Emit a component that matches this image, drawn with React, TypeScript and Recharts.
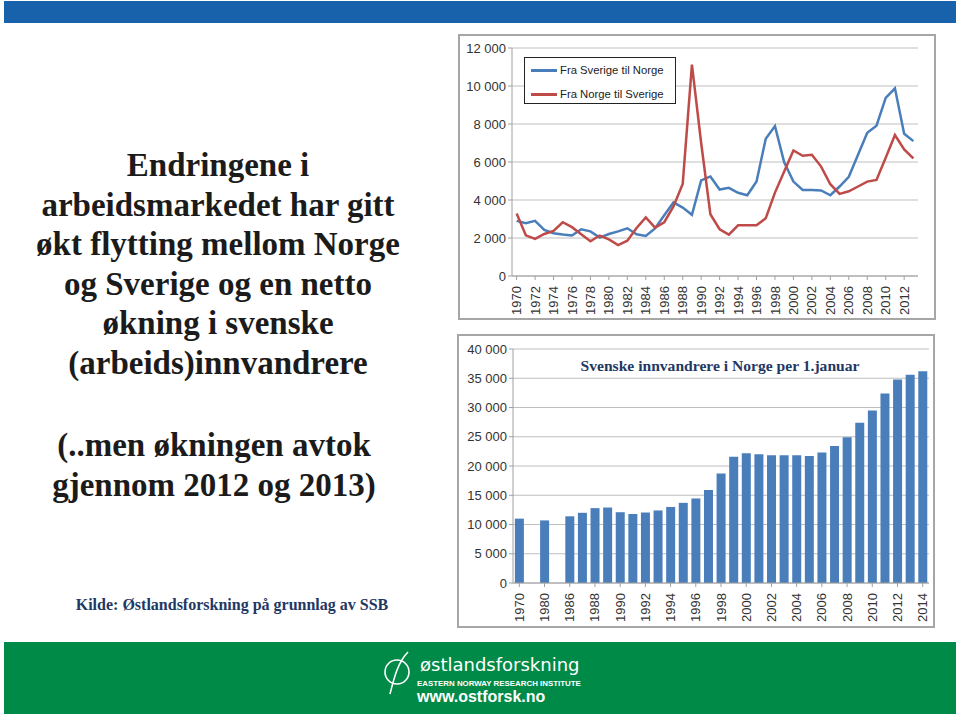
import { LineChart, Line, BarChart, Bar, XAxis, YAxis, CartesianGrid } from 'recharts';

// Flyttinger mellom Norge og Sverige
const years = [
  '1970', '1971', '1972', '1973', '1974', '1975', '1976', '1977', '1978', '1979',
  '1980', '1981', '1982', '1983', '1984', '1985', '1986', '1987', '1988', '1989',
  '1990', '1991', '1992', '1993', '1994', '1995', '1996', '1997', '1998', '1999',
  '2000', '2001', '2002', '2003', '2004', '2005', '2006', '2007', '2008', '2009',
  '2010', '2011', '2012', '2013',
];
const fraSverige = [
  2900, 2780, 2900, 2430, 2250, 2180, 2130, 2460, 2350, 2020,
  2210, 2350, 2510, 2200, 2110, 2500, 3200, 3870, 3600, 3220,
  5030, 5240, 4550, 4640, 4380, 4250, 4970, 7220, 7890, 5980,
  4970, 4530, 4530, 4500, 4250, 4710, 5220, 6380, 7540, 7910,
  9370, 9880, 7490, 7100,
];
const fraNorge = [
  3290, 2140, 1950, 2210, 2370, 2830, 2570, 2200, 1830, 2130,
  1930, 1630, 1860, 2530, 3080, 2550, 2830, 3660, 4850, 11120,
  7000, 3250, 2460, 2180, 2670, 2670, 2670, 3040, 4390, 5500,
  6610, 6330, 6380, 5760, 4830, 4320, 4460, 4710, 4970, 5060,
  6220, 7420, 6660, 6190,
];
const flowTicks = [0, 2000, 4000, 6000, 8000, 10000, 12000];
const seriesNames = ['Fra Sverige til Norge', 'Fra Norge til Sverige'];
const seriesColors = ['#4A7EBB', '#BE4B48'];

// Svenske innvandrere i Norge (tomme plasser mellom 1970, 1980 og 1986)
const stockYears = [
  '1970', '', '1980', '', '1986', '1987', '1988', '1989', '1990', '1991',
  '1992', '1993', '1994', '1995', '1996', '1997', '1998', '1999', '2000', '2001',
  '2002', '2003', '2004', '2005', '2006', '2007', '2008', '2009', '2010', '2011',
  '2012', '2013', '2014',
];
const stockValues = [
  11000, null, 10700, null, 11400, 12000, 12800, 12900, 12100, 11800,
  12050, 12400, 13000, 13700, 14450, 15900, 18700, 21600, 22200, 22000,
  21850, 21850, 21850, 21700, 22300, 23400, 24900, 27400, 29500, 32400,
  34800, 35600, 36200,
];
const stockTicks = [0, 5000, 10000, 15000, 20000, 25000, 30000, 35000, 40000];

const flowData = years.map((y, i) => ({ year: y, a: fraSverige[i], b: fraNorge[i] }));
const stockData = stockYears.map((y, i) => ({ year: y, v: stockValues[i] }));

const fmt = (v: number) => String(v).replace(/\B(?=(\d{3})+(?!\d))/g, ' ');
const axisFont = { fontFamily: 'Liberation Sans, Arial, sans-serif', fontSize: 13, fill: '#333' };

const VTick = ({ x, y, payload }: any) => (
  <text
    x={x}
    y={y}
    transform={`rotate(-90 ${x} ${y})`}
    textAnchor="end"
    dx={-4}
    dy="0.35em"
    {...axisFont}
  >
    {payload.value}
  </text>
);

const frame = (left: number, top: number, width: number, height: number) => ({
  position: 'absolute' as const,
  left,
  top,
  width,
  height,
  border: '2px solid #a6a6a6',
  boxSizing: 'border-box' as const,
});

const serif = '"Liberation Serif", "Times New Roman", serif';

export default function App() {
  return (
    <div style={{ position: 'absolute', left: 0, top: 0, width: 960, height: 716, background: '#fff', overflow: 'hidden' }}>
      <div style={{ position: 'absolute', left: 4, top: 1, width: 952, height: 22, background: '#1762AB' }} />

      <div
        style={{
          position: 'absolute', left: 18, top: 146, width: 400, textAlign: 'center',
          fontFamily: serif, fontWeight: 'bold', fontSize: 33, lineHeight: '39.5px', color: '#1b1b1b',
        }}
      >
        Endringene i<br />arbeidsmarkedet har gitt<br />økt flytting mellom Norge<br />og Sverige og en netto<br />økning i svenske<br />(arbeids)innvandrere
      </div>
      <div
        style={{
          position: 'absolute', left: 14, top: 425, width: 400, textAlign: 'center',
          fontFamily: serif, fontWeight: 'bold', fontSize: 33, lineHeight: '40px', color: '#1b1b1b',
        }}
      >
        (..men økningen avtok<br />gjennom 2012 og 2013)
      </div>
      <div
        style={{
          position: 'absolute', left: 32, top: 596, width: 400, textAlign: 'center',
          fontFamily: serif, fontWeight: 'bold', fontSize: 16, color: '#1F3864',
        }}
      >
        Kilde: Østlandsforskning på grunnlag av SSB
      </div>

      <div style={frame(458, 34, 478, 286)} />
      <div style={{ position: 'absolute', left: 458, top: 34 }}>
        <LineChart width={478} height={286} data={flowData} margin={{ top: 14, right: 18, left: 0, bottom: 0 }}>
          <CartesianGrid vertical={false} stroke="#bfbfbf" />
          <XAxis dataKey="year" scale="band" interval={1} height={44} tick={<VTick />} stroke="#a0a0a0" tickSize={4} />
          <YAxis width={54} domain={[0, 12000]} ticks={flowTicks} tickFormatter={fmt} tick={axisFont} stroke="#a0a0a0" tickSize={4} />
          <Line dataKey="a" name={seriesNames[0]} stroke={seriesColors[0]} strokeWidth={2.5} dot={false} isAnimationActive={false} />
          <Line dataKey="b" name={seriesNames[1]} stroke={seriesColors[1]} strokeWidth={2.5} dot={false} isAnimationActive={false} />
        </LineChart>
      </div>
      <div
        style={{
          position: 'absolute', left: 524, top: 57, width: 152, height: 47, border: '1px solid #222',
          boxSizing: 'border-box', background: '#fff', fontFamily: 'Liberation Sans, Arial, sans-serif', fontSize: 11.3,
        }}
      >
        {seriesNames.map((n, i) => (
          <div key={n} style={{ position: 'absolute', left: 6, top: 3 + i * 24, display: 'flex', alignItems: 'center', height: 18 }}>
            <span style={{ display: 'inline-block', width: 26, height: 3, background: seriesColors[i], marginRight: 3 }} />
            <span style={{ color: '#222', whiteSpace: 'nowrap' }}>{n}</span>
          </div>
        ))}
      </div>

      <div style={frame(457, 334, 478, 294)} />
      <div style={{ position: 'absolute', left: 457, top: 334 }}>
        <BarChart width={478} height={294} data={stockData} barCategoryGap="15%" margin={{ top: 15, right: 6, left: 0, bottom: 0 }}>
          <CartesianGrid vertical={false} stroke="#bfbfbf" />
          <XAxis dataKey="year" interval={1} height={45} tick={<VTick />} stroke="#a0a0a0" tickSize={4} />
          <YAxis width={56} domain={[0, 40000]} ticks={stockTicks} tickFormatter={fmt} tick={axisFont} stroke="#a0a0a0" tickSize={4} />
          <Bar dataKey="v" fill="#4A7EBB" isAnimationActive={false} />
          <text x={263} y={37} textAnchor="middle" fontFamily={serif} fontWeight="bold" fontSize={15.6} fill="#1F3864">
            Svenske innvandrere i Norge per 1.januar
          </text>
        </BarChart>
      </div>

      <div style={{ position: 'absolute', left: 4, top: 642, width: 952, height: 72, background: '#008A47' }} />
      <svg style={{ position: 'absolute', left: 380, top: 648 }} width={220} height={62}>
        <circle cx={17} cy={24} r={12} fill="none" stroke="#fff" strokeWidth={1.6} />
        <path d="M 10 46 C 14 30, 18 14, 28 4" fill="none" stroke="#fff" strokeWidth={1.6} />
        <text x={40} y={23} fill="#fff" fontFamily="DejaVu Sans, sans-serif" fontSize={18}>østlandsforskning</text>
        <text x={37} y={38} fill="#fff" fontFamily="Liberation Sans, Arial, sans-serif" fontWeight="bold" fontSize={7.9}>
          EASTERN NORWAY RESEARCH INSTITUTE
        </text>
        <text x={37} y={54} fill="#fff" fontFamily="Liberation Sans, Arial, sans-serif" fontWeight="bold" fontSize={16}>
          www.ostforsk.no
        </text>
      </svg>
    </div>
  );
}
